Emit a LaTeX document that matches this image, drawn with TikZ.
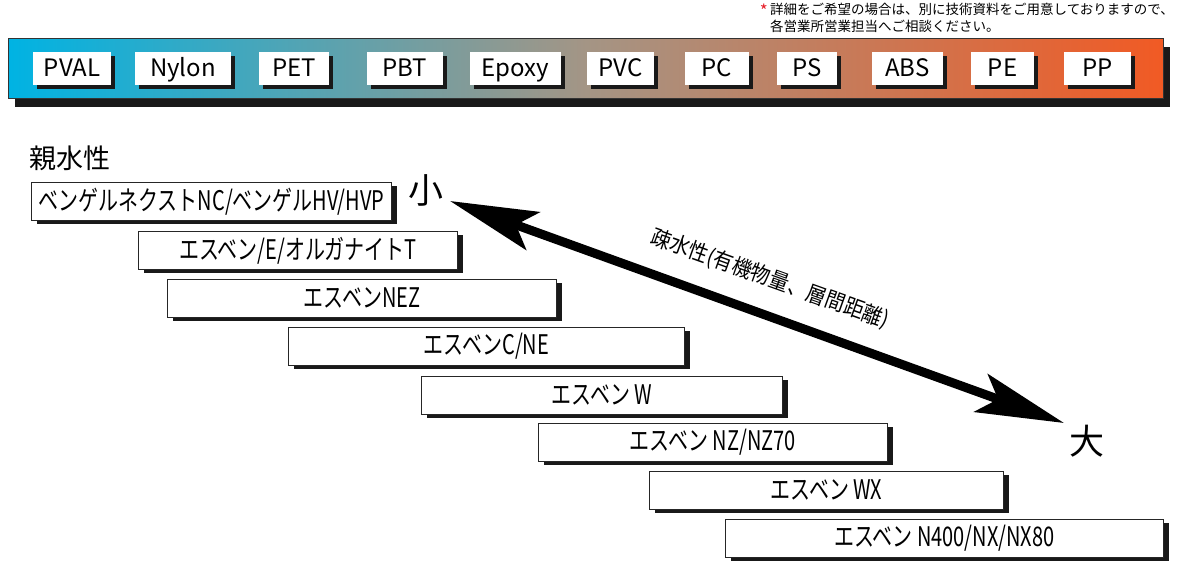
\documentclass[tikz,border=0pt]{standalone}
\usepackage{fontspec}
\setmainfont{Noto Sans CJK JP}
\newfontfamily\condfont[FakeStretch=0.74]{Noto Sans CJK JP}
\newfontfamily\labfont[FakeStretch=0.9]{Noto Sans CJK JP}
\usetikzlibrary{arrows.meta,shadows}
\definecolor{barL}{RGB}{0,179,227}
\definecolor{barM}{RGB}{164,149,133}
\definecolor{barR}{RGB}{241,90,36}
\definecolor{astred}{RGB}{230,30,40}
\tikzset{
  barbox/.style={draw=black!80, line width=1pt, left color=barL, right color=barR, middle color=barM,
    minimum width=1155pt, minimum height=60pt, inner sep=0pt, anchor=north west,
    drop shadow={shadow xshift=6pt, shadow yshift=-8pt, opacity=1, fill=black!90}},
  resin/.style={fill=white, inner sep=0pt, minimum height=33pt, text height=16pt, text depth=0pt,
    font=\fontsize{24}{24}\selectfont,
    drop shadow={shadow xshift=4pt, shadow yshift=-4pt, opacity=1, fill=black!90}},
  grade/.style={draw=black!85, line width=0.9pt, fill=white, inner sep=0pt, minimum height=38pt,
    anchor=north west, font=\condfont\fontsize{27}{27}\selectfont,
    drop shadow={shadow xshift=6pt, shadow yshift=-3.5pt, opacity=1, fill=black!90}},
  bigchar/.style={inner sep=0pt, font=\fontsize{35}{35}\selectfont},
  bigarrow/.style={line width=9pt,
    {Stealth[length=88pt,width=40pt,inset=18pt]}-{Stealth[length=88pt,width=40pt,inset=18pt]}},
}
\begin{document}
\begin{tikzpicture}[x=1pt,y=-1pt]
\useasboundingbox (0,0) rectangle (1180,565);

% note
\node[anchor=north west, inner sep=0pt, align=left, font=\fontsize{13.5}{16.5}\selectfont] (note) at (770,3)
  {詳細をご希望の場合は、別に技術資料をご用意しておりますので、\\各営業所営業担当へご相談ください。};
\node[anchor=north east, inner sep=0pt, text=astred, font=\fontsize{17}{17}\selectfont] (ast) at ([xshift=-2pt,yshift=-1pt]note.north west) {*};

% resin bar
\node[barbox] (bar) at (8,38) {};
\node[resin, minimum width=78pt] (pval)  at (72,68.5)    {PVAL};
\node[resin, minimum width=96pt] (nylon) at (183,68.5)   {Nylon};
\node[resin, minimum width=70pt] (pet)   at (294,68.5)   {PET};
\node[resin, minimum width=76pt] (pbt)   at (405,68.5)   {PBT};
\node[resin, minimum width=91pt] (epoxy) at (515.5,68.5) {Epoxy};
\node[resin, minimum width=67pt] (pvc)   at (620.5,68.5) {PVC};
\node[resin, minimum width=64pt] (pc)    at (717,68.5)   {PC};
\node[resin, minimum width=60pt] (ps)    at (807,68.5)   {PS};
\node[resin, minimum width=71pt] (abs)   at (907.5,68.5) {ABS};
\node[resin, minimum width=63pt] (pe)    at (1002.5,68.5){PE};
\node[resin, minimum width=67pt] (pp)    at (1097.5,68.5){PP};

% header
\node[anchor=west, inner sep=0pt, font=\fontsize{27}{27}\selectfont] (hydro) at (29,158) {親水性};

% grade boxes
\node[grade, minimum width=360pt] (b1) at (31,182)  {ベンゲルネクストNC/ベンゲルHV/HVP};
\node[grade, minimum width=319pt] (b2) at (138,231) {エスベン/E/オルガナイトT};
\node[grade, minimum width=389pt] (b3) at (167,279) {エスベンNEZ};
\node[grade, minimum width=396pt] (b4) at (288,327) {エスベンC/NE};
\node[grade, minimum width=361pt] (b5) at (421,376) {エスベン W};
\node[grade, minimum width=349pt] (b6) at (538,423) {エスベン NZ/NZ70};
\node[grade, minimum width=354pt] (b7) at (649,471) {エスベン WX};
\node[grade, minimum width=438pt] (b8) at (725,519) {エスベン N400/NX/NX80};

% small / large and arrow
\node[bigchar] (small) at (426,190) {小};
\node[bigchar] (large) at (1087,441) {大};
\coordinate (tipL) at (450,201);
\coordinate (tipR) at (1064,423);
\draw[bigarrow] (tipL) -- (tipR);
\node[rotate=-19.8, inner sep=0pt, font=\labfont\fontsize{22}{22}\selectfont] (lab) at (770,279) {疎水性(有機物量、層間距離)};
\end{tikzpicture}
\end{document}
